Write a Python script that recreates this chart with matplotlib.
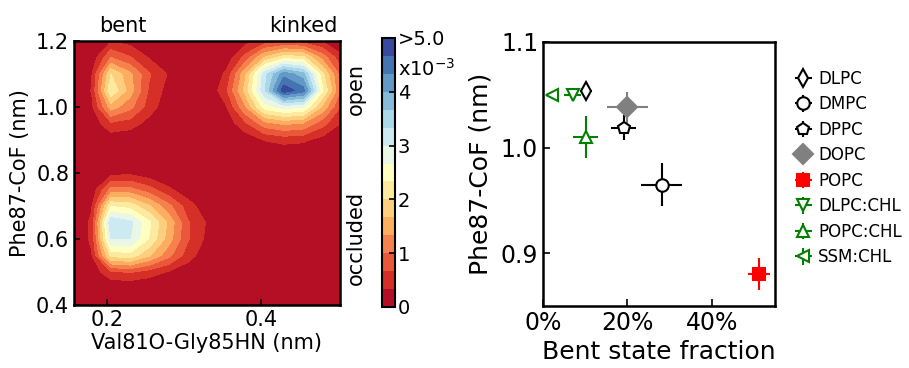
import numpy as np
import matplotlib
matplotlib.use("Agg")
import matplotlib.pyplot as plt
from matplotlib.ticker import PercentFormatter

# --- left panel: 2D probability density (x10^-3) ---
x_grid = [0.155, 0.18, 0.205, 0.23, 0.255, 0.28, 0.305, 0.33,
          0.355, 0.38, 0.405, 0.43, 0.455, 0.48, 0.505]
y_grid = [0.40, 0.45, 0.50, 0.55, 0.60, 0.65, 0.70, 0.75, 0.80,
          0.85, 0.90, 0.95, 1.00, 1.05, 1.10, 1.15, 1.20]
density = [
    [0, 0,    0,   0,    0,   0,   0,   0,    0,   0,   0,    0,   0,   0,    0],
    [0, 0,    0,   0,    0,   0,   0,   0,    0,   0,   0,    0,   0,   0,    0],
    [0, 0.1,  0.6, 0.7,  0.5, 0.3, 0.1, 0,    0,   0,   0,    0,   0,   0,    0],
    [0, 0.3,  2.1, 2.2,  1.7, 1.1, 0.5, 0.1,  0,   0,   0,    0,   0,   0,    0],
    [0, 0.4,  3.0, 3.0,  2.3, 1.5, 0.7, 0.25, 0,   0,   0,    0,   0,   0,    0],
    [0, 0.4,  3.3, 3.1,  2.4, 1.6, 0.7, 0.3,  0,   0,   0,    0,   0,   0,    0],
    [0, 0.3,  2.3, 2.2,  1.7, 1.1, 0.5, 0.1,  0,   0,   0,    0,   0,   0,    0],
    [0, 0.1,  1.1, 1.1,  0.8, 0.4, 0.1, 0,    0,   0,   0,    0,   0,   0,    0],
    [0, 0,    0.2, 0.25, 0.1, 0,   0,   0,    0,   0,   0,    0,   0,   0,    0],
    [0, 0,    0,   0,    0,   0,   0,   0,    0,   0,   0,    0,   0,   0,    0],
    [0, 0,    0.1, 0.05, 0,   0,   0,   0,    0,   0.1, 0.35, 0.45, 0.4, 0.2,  0],
    [0, 0.1,  0.6, 0.5,  0.2, 0,   0,   0,    0.1, 0.6, 1.2,  1.4, 1.3, 0.8,  0.3],
    [0, 0.25, 1.5, 1.1,  0.5, 0.1, 0,   0,    0.3, 1.3, 2.5,  2.8, 2.7, 1.6,  0.6],
    [0, 0.35, 2.3, 1.5,  0.6, 0.2, 0,   0,    0.6, 1.8, 3.3,  4.9, 4.5, 2.4,  0.9],
    [0, 0.3,  2.0, 1.4,  0.7, 0.3, 0,   0,    0.4, 1.6, 3.2,  4.2, 3.8, 2.1,  0.8],
    [0, 0.1,  1.0, 0.7,  0.3, 0,   0,   0,    0.1, 0.8, 1.7,  2.2, 2.1, 1.2,  0.4],
    [0, 0,    0.3, 0.2,  0,   0,   0,   0,    0,   0.2, 0.45, 0.55, 0.5, 0.3,  0.1],
]

# --- right panel: bent fraction vs Phe87-CoF per membrane ---
lipids = ["DLPC", "DMPC", "DPPC", "DOPC", "POPC", "DLPC:CHL", "POPC:CHL", "SSM:CHL"]
bent_frac = [0.102, 0.281, 0.191, 0.200, 0.513, 0.070, 0.101, 0.021]
bent_err = [0.014, 0.049, 0.029, 0.049, 0.026, 0.020, 0.029, 0.0]
cof = [1.054, 0.965, 1.019, 1.038, 0.880, 1.050, 1.010, 1.050]
cof_err = [0.006, 0.020, 0.012, 0.015, 0.015, 0.004, 0.020, 0.0]
markers = ["d", "o", "p", "D", "s", "v", "^", "<"]
edge_cols = ["black", "black", "black", "gray", "red", "green", "green", "green"]
face_cols = ["white", "white", "white", "gray", "red", "white", "white", "white"]

fig = plt.figure(figsize=(9.09, 3.68), dpi=100)

ax1 = fig.add_axes([0.0814, 0.1712, 0.2926, 0.7174])
levels = np.linspace(0, 5, 16)
Z = np.clip(np.array(density), 0, 4.99)
cs = ax1.contourf(x_grid, y_grid, Z, levels=levels, cmap="RdYlBu")
ax1.set_xlim(0.157, 0.503)
ax1.set_ylim(0.4, 1.2)
ax1.set_xticks([0.2, 0.4])
ax1.set_yticks([0.4, 0.6, 0.8, 1.0, 1.2])
ax1.tick_params(direction="in", labelsize=15, length=4, width=1.2)
ax1.set_xlabel("Val81O-Gly85HN (nm)", fontsize=15, labelpad=2)
ax1.set_ylabel("Phe87-CoF (nm)", fontsize=15, labelpad=4)
for s in ax1.spines.values():
    s.set_linewidth(1.8)
ax1.text(0.221, 1.215, "bent", fontsize=15, ha="center", va="bottom")
ax1.text(0.5, 1.215, "kinked", fontsize=15, ha="right", va="bottom")
ax1.text(1.06, 0.818, "open", fontsize=15, rotation=90, ha="center", va="center",
         transform=ax1.transAxes)
ax1.text(1.06, 0.254, "occluded", fontsize=15, rotation=90, ha="center", va="center",
         transform=ax1.transAxes)

cax = fig.add_axes([0.4203, 0.1658, 0.0143, 0.731])
cb = fig.colorbar(cs, cax=cax, ticks=[0, 1, 2, 3, 4, 5])
cb.ax.set_yticklabels(["0", "1", "2", "3", "4", ">5.0"])
cb.ax.tick_params(direction="in", labelsize=14, length=4, width=1.2, pad=2)
cb.outline.set_linewidth(1.5)
cb.ax.text(1.25, 0.885, "x10$^{-3}$", fontsize=14, transform=cb.ax.transAxes,
           ha="left", va="center")

ax2 = fig.add_axes([0.5974, 0.1685, 0.2552, 0.7174])
for i in range(len(lipids)):
    ax2.errorbar(bent_frac[i], cof[i], xerr=bent_err[i], yerr=cof_err[i],
                 marker=markers[i], ms=10 if markers[i] == "D" else 9,
                 mfc=face_cols[i], mec=edge_cols[i], mew=1.5,
                 ecolor=edge_cols[i], elinewidth=1.5, capsize=0,
                 linestyle="none", label=lipids[i])
ax2.set_xlim(0, 0.55)
ax2.set_ylim(0.85, 1.1)
ax2.set_xticks([0, 0.2, 0.4])
ax2.set_yticks([0.9, 1.0, 1.1])
ax2.xaxis.set_major_formatter(PercentFormatter(1.0, decimals=0))
ax2.tick_params(direction="in", labelsize=17, length=5, width=1.2)
ax2.set_xlabel("Bent state fraction", fontsize=18, labelpad=4)
ax2.set_ylabel("Phe87-CoF (nm)", fontsize=18, labelpad=6)
for s in ax2.spines.values():
    s.set_linewidth(1.8)
ax2.legend(loc="upper left", bbox_to_anchor=(1.05, 0.92), frameon=False,
           fontsize=12, handletextpad=0.3, labelspacing=0.45, handlelength=1.2,
           borderaxespad=0)

plt.savefig("out.png", dpi=100)
